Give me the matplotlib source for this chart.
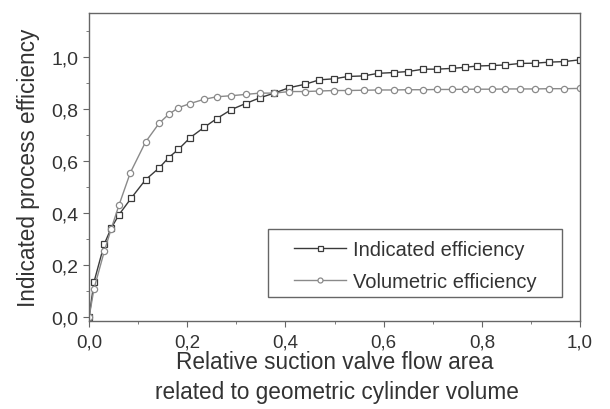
import numpy as np
import matplotlib.pyplot as plt
from matplotlib.patches import Rectangle
from matplotlib.ticker import MultipleLocator, FuncFormatter

plt.rcParams['font.family'] = ['Liberation Sans', 'DejaVu Sans']

# Data

x_ind = [0.0, 0.010, 0.031, 0.045, 0.061, 0.086, 0.115, 0.143, 0.162, 0.182,
         0.206, 0.234, 0.260, 0.290, 0.319, 0.348, 0.377, 0.408, 0.440, 0.469,
         0.499, 0.528, 0.559, 0.589, 0.620, 0.650, 0.681, 0.709, 0.739, 0.765,
         0.790, 0.820, 0.847, 0.878, 0.908, 0.937, 0.967, 1.0]
y_ind = [0.0, 0.136, 0.282, 0.343, 0.395, 0.459, 0.529, 0.575, 0.614, 0.646,
         0.691, 0.730, 0.764, 0.799, 0.822, 0.844, 0.862, 0.883, 0.896, 0.913,
         0.917, 0.926, 0.928, 0.938, 0.941, 0.945, 0.954, 0.954, 0.957, 0.961,
         0.966, 0.968, 0.970, 0.976, 0.977, 0.981, 0.983, 0.990]

x_vol = [0.0, 0.010, 0.031, 0.045, 0.061, 0.084, 0.115, 0.143, 0.162, 0.182,
         0.206, 0.234, 0.260, 0.290, 0.319, 0.348, 0.377, 0.408, 0.440, 0.469,
         0.499, 0.528, 0.559, 0.589, 0.620, 0.650, 0.681, 0.709, 0.739, 0.765,
         0.790, 0.820, 0.847, 0.878, 0.908, 0.937, 0.967, 1.0]
y_vol = [0.0, 0.110, 0.254, 0.340, 0.432, 0.556, 0.674, 0.747, 0.780, 0.806,
         0.822, 0.838, 0.848, 0.852, 0.857, 0.862, 0.862, 0.868, 0.868, 0.870,
         0.872, 0.872, 0.873, 0.874, 0.874, 0.875, 0.875, 0.876, 0.876, 0.877,
         0.877, 0.877, 0.878, 0.878, 0.878, 0.879, 0.879, 0.880]

text_col = "#333333"
label_size = 16.3

fig = plt.figure(figsize=(6.1, 4.1), dpi=100)
ax = fig.add_axes([0.146, 0.215, 0.805, 0.751])

ax.plot(x_ind, y_ind, color="#3a3a3a", linewidth=1.0, marker="s", markersize=4.5,
        markerfacecolor="white", markeredgecolor="#3a3a3a", markeredgewidth=0.9,
        label="Indicated efficiency")
ax.plot(x_vol, y_vol, color="#8a8a8a", linewidth=1.0, marker="o", markersize=4.5,
        markerfacecolor="white", markeredgecolor="#8a8a8a", markeredgewidth=0.9,
        label="Volumetric efficiency")

ax.set_xlim(0, 1.0)
ax.set_ylim(-0.013, 1.17)

ax.xaxis.set_major_locator(MultipleLocator(0.2))
ax.xaxis.set_minor_locator(MultipleLocator(0.1))
ax.yaxis.set_major_locator(MultipleLocator(0.2))
ax.yaxis.set_minor_locator(MultipleLocator(0.1))
comma = FuncFormatter(lambda v, p: f"{v:.1f}".replace(".", ","))
ax.xaxis.set_major_formatter(comma)
ax.yaxis.set_major_formatter(comma)

ax.tick_params(which="both", direction="out", colors="#666666", labelcolor=text_col,
               labelsize=14)
ax.tick_params(which="major", length=4)
ax.tick_params(which="minor", length=2.5)
ax.tick_params(axis="x", which="major", pad=5, labelsize=13.5)
ax.tick_params(axis="y", which="major", pad=3.5)
for s in ax.spines.values():
    s.set_color("#666666")
    s.set_linewidth(1.0)

ax.set_ylabel("Indicated process efficiency", fontsize=label_size, color=text_col, labelpad=8)
ax.set_xlabel("Relative suction valve flow area", fontsize=label_size, color=text_col, labelpad=0)
fig.text(0.5525, 0.027, "related to geometric cylinder volume", fontsize=label_size,
         color=text_col, ha="center", va="baseline")

# legend box, wider than the default padding
ax.add_patch(Rectangle((0.365, 0.078), 0.598, 0.221, transform=ax.transAxes,
                       facecolor="white", edgecolor="#666666", linewidth=1.0, zorder=4))
leg = ax.legend(loc="center", bbox_to_anchor=(0.664, 0.179), fontsize=14.5,
                frameon=False, handlelength=2.6, handletextpad=0.3,
                borderpad=0.2, labelspacing=0.65, markerscale=0.8)
leg.set_zorder(5)
for t in leg.get_texts():
    t.set_color(text_col)

fig.savefig("out.png", dpi=100)
